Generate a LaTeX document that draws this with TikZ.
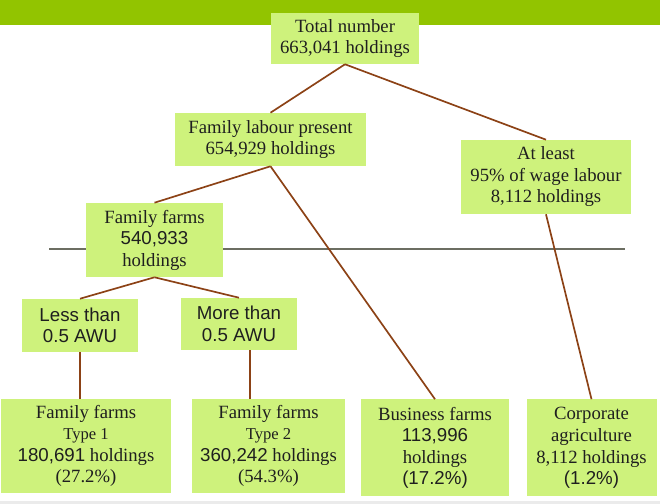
\documentclass[tikz,border=0pt]{standalone}
\usepackage{fontspec}
\setmainfont{Liberation Serif}
\newfontfamily\timesfont{Liberation Serif}
\newfontfamily\arial{Liberation Sans}
\usepackage{tikz}
\usetikzlibrary{positioning}
\definecolor{barGreen}{RGB}{146,196,0}
\definecolor{boxGreen}{RGB}{206,242,124}
\definecolor{linkBrown}{RGB}{140,66,22}
\definecolor{ruleGrey}{RGB}{108,110,98}
\newcommand{\typeline}[1]{{\fontsize{11.8}{15.3}\selectfont #1}}
\tikzstyle{holding} = [fill=boxGreen, align=center, inner sep=0pt, text=black!88, font=\timesfont\fontsize{13.3}{15.3}\selectfont]
\tikzstyle{awu} = [holding, font=\arial\fontsize{13.3}{15.3}\selectfont]
\tikzstyle{link} = [draw=linkBrown, line width=1.2pt]

\begin{document}
\begin{tikzpicture}[x=0.25cm, y=-0.25cm]
			\useasboundingbox (0,0) rectangle (66,50.4);
			\fill[barGreen] (0,0) rectangle (66,2.5);
			\fill[black!8] (0,50.1) rectangle (66,50.4);
			\draw[ruleGrey, line width=1.2pt] (4.9,24.9) -- (62.5,24.9);
			\node[holding, minimum width=3.7cm, minimum height=1.275cm] (total) at (34.5,3.85) {Total number\\663,041 holdings};
			\node[holding, minimum width=4.775cm, minimum height=1.325cm] (labour) at (27.05,13.95) {Family labour present\\654,929 holdings};
			\node[holding, minimum width=4.25cm, minimum height=1.85cm] (wage) at (54.6,17.7) {At least\\95\% of wage labour\\8,112 holdings};
			\node[holding, minimum width=3.425cm, minimum height=1.85cm] (family) at (15.45,24.0) {Family farms\\{\arial 540,933}\\holdings};
			\node[awu, minimum width=2.9cm, minimum height=1.325cm] (less) at (8.0,32.55) {Less than\\0.5 AWU};
			\node[awu, minimum width=2.9cm, minimum height=1.3cm] (more) at (23.9,32.4) {More than\\0.5 AWU};
			\node[holding, minimum width=4.225cm, minimum height=2.35cm] (type1) at (8.6,44.6) {Family farms\\\typeline{Type 1}\\{\arial 180,691} holdings\\(27.2\%)};
			\node[holding, minimum width=3.825cm, minimum height=2.35cm] (type2) at (26.85,44.6) {Family farms\\\typeline{Type 2}\\{\arial 360,242} holdings\\(54.3\%)};
			\node[holding, minimum width=3.7cm, minimum height=2.425cm] (business) at (43.5,44.8) {Business farms\\{\arial 113,996}\\holdings\\{\arial (17.2\%)}};
			\node[holding, minimum width=3.25cm, minimum height=2.425cm] (corporate) at (59.15,44.8) {Corporate\\agriculture\\8,112 holdings\\{\arial (1.2\%)}};
			% connectors
			\draw[link] (total.south) edge (labour.north) edge (wage.north);
			\draw[link] (labour.south) edge (family.north) edge (business.north);
			\draw[link] (wage.south) edge (corporate.north);
			\draw[link] (family.south) edge (less.north) edge (more.north);
			\draw[link] (less.south) -- (less.south |- type1.north);
			\draw[link] ([xshift=2.75mm]more.south) -- ([xshift=2.75mm]more.south |- type2.north);
		\end{tikzpicture}
\end{document}
